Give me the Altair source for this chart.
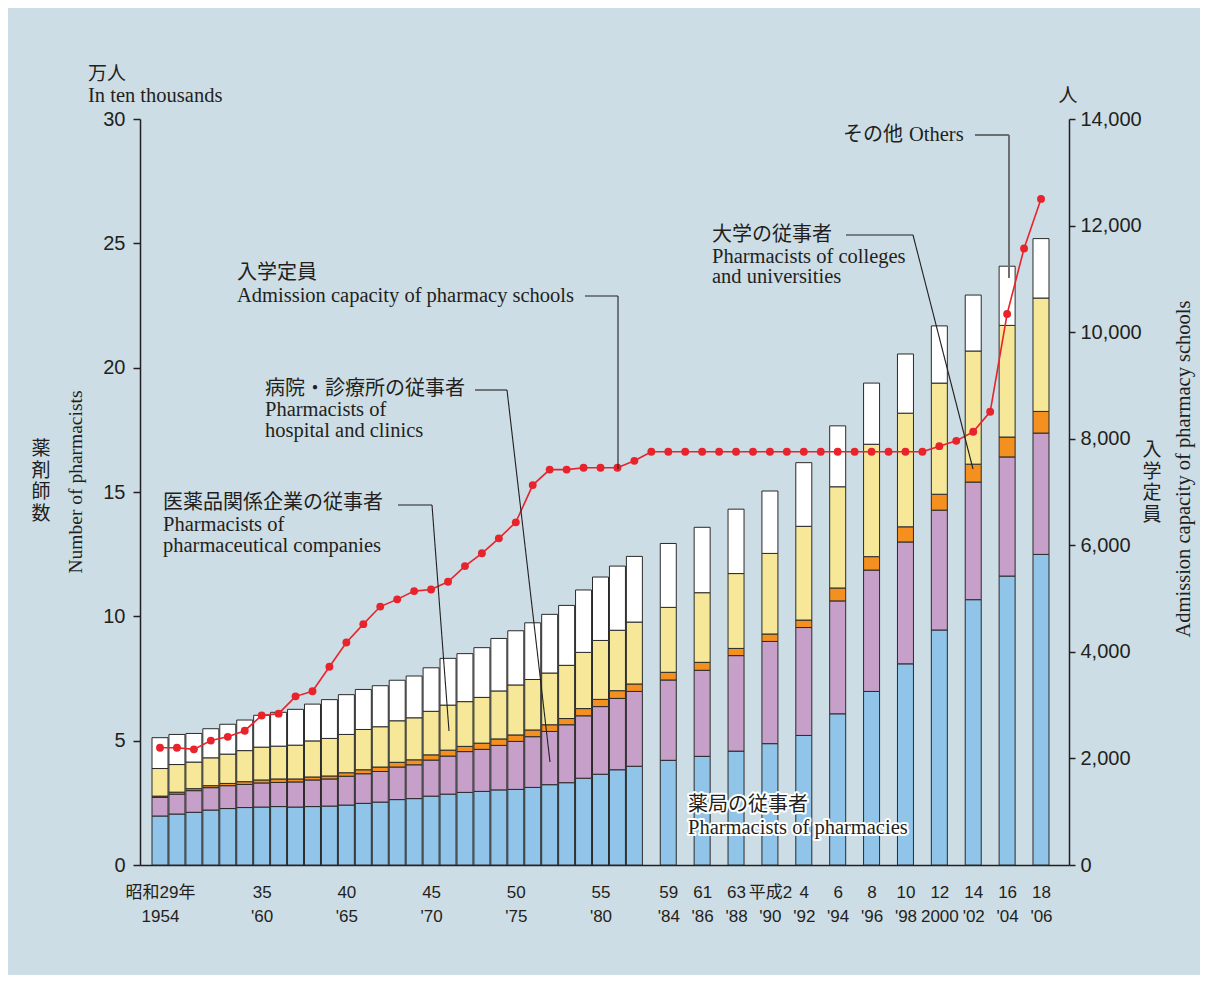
import json
import altair as alt
import pandas as pd

# ---------------- data ----------------
bar_years = list(range(1954, 1983)) + list(range(1984, 2007, 2))

# number of pharmacists by workplace, in ten thousands
pharmacies = [1.97, 2.05, 2.12, 2.21, 2.27, 2.31, 2.33, 2.35, 2.33, 2.35, 2.37, 2.41, 2.48, 2.53,
              2.63, 2.67, 2.77, 2.85, 2.92, 2.96, 3.02, 3.04, 3.12, 3.23, 3.31, 3.49, 3.65, 3.83,
              3.97, 4.21, 4.37, 4.58, 4.88, 5.21, 6.08, 6.98, 8.09, 9.45, 10.67, 11.62, 12.49]
hospitals = [0.75, 0.80, 0.87, 0.90, 0.92, 0.93, 0.97, 0.97, 1.01, 1.07, 1.09, 1.16, 1.19, 1.23,
             1.31, 1.36, 1.45, 1.53, 1.64, 1.69, 1.79, 1.93, 2.04, 2.14, 2.33, 2.51, 2.72, 2.87,
             3.01, 3.23, 3.46, 3.84, 4.11, 4.34, 4.54, 4.88, 4.90, 4.82, 4.73, 4.79, 4.88]
colleges = [0.05, 0.08, 0.08, 0.08, 0.09, 0.11, 0.12, 0.14, 0.12, 0.12, 0.12, 0.14, 0.16, 0.18,
            0.19, 0.20, 0.21, 0.24, 0.21, 0.25, 0.26, 0.26, 0.27, 0.27, 0.25, 0.29, 0.29, 0.31,
            0.30, 0.31, 0.32, 0.29, 0.30, 0.30, 0.52, 0.54, 0.61, 0.64, 0.72, 0.80, 0.87]
companies = [1.11, 1.11, 1.07, 1.12, 1.18, 1.25, 1.32, 1.32, 1.36, 1.45, 1.51, 1.54, 1.62, 1.62,
             1.67, 1.69, 1.75, 1.81, 1.80, 1.84, 1.93, 2.01, 2.03, 2.08, 2.14, 2.26, 2.37, 2.43,
             2.49, 2.61, 2.80, 3.01, 3.24, 3.77, 4.07, 4.52, 4.57, 4.47, 4.55, 4.49, 4.56]
others = [1.24, 1.21, 1.15, 1.17, 1.20, 1.23, 1.28, 1.36, 1.44, 1.48, 1.56, 1.60, 1.61, 1.65,
          1.63, 1.68, 1.75, 1.88, 1.93, 2.00, 2.11, 2.18, 2.28, 2.36, 2.41, 2.51, 2.55, 2.58,
          2.64, 2.57, 2.63, 2.59, 2.51, 2.56, 2.45, 2.46, 2.38, 2.30, 2.25, 2.38, 2.39]

categories = ["薬局の従事者", "病院・診療所の従事者", "大学の従事者", "医薬品関係企業の従事者", "その他"]
cat_colors = ["#90c4e8", "#c6a0c8", "#f3901f", "#f7e899", "#ffffff"]

# admission capacity of pharmacy schools (persons), every year
cap_years = list(range(1954, 2007))
capacity = [2200, 2200, 2170, 2335, 2405, 2520, 2805, 2840, 3165, 3260, 3720, 4175, 4520, 4850,
            4985, 5140, 5170, 5315, 5610, 5850, 6130, 6430, 7130, 7420, 7420, 7455, 7455, 7455,
            7585, 7755, 7755, 7755, 7755, 7755, 7755, 7755, 7755, 7755, 7755, 7755, 7755, 7755,
            7755, 7755, 7755, 7755, 7860, 7960, 8130, 8505, 10340, 11570, 12500]

# x axis tick labels (two lines each)
tick_years = [1954, 1960, 1965, 1970, 1975, 1980, 1984, 1986, 1988, 1990, 1992, 1994, 1996,
              1998, 2000, 2002, 2004, 2006]
tick_line1 = ["昭和29年", "35", "40", "45", "50", "55", "59", "61", "63", "平成2", "4", "6", "8",
              "10", "12", "14", "16", "18"]
tick_line2 = ["1954", "'60", "'65", "'70", "'75", "'80", "'84", "'86", "'88", "'90", "'92", "'94",
              "'96", "'98", "2000", "'02", "'04", "'06"]
left_ticks = [0, 5, 10, 15, 20, 25, 30]
right_ticks = [0, 2000, 4000, 6000, 8000, 10000, 12000, 14000]

# ---------------- tables ----------------
rows = []
for i, yr in enumerate(bar_years):
    for k, arr in enumerate([pharmacies, hospitals, colleges, companies, others]):
        rows.append({"year": yr, "cat": categories[k], "order": k, "value": arr[i]})
bars_df = pd.DataFrame(rows)
cap_df = pd.DataFrame({"year": cap_years, "cap": capacity})

# ---------------- style ----------------
BG = "#cddde5"
INK = "#231f20"
RED = "#e8232b"
SANS = "Liberation Sans, Arial, Noto Sans CJK JP"
JP = "Noto Sans CJK JP"
SERIF = "Liberation Serif, Times New Roman"

PLOT_L, PLOT_T = 140, 119          # page position of plot origin
W, H = 929, 746

xscale = alt.Scale(domain=[1952.819, 2007.653], nice=False, zero=False, padding=0)
pairs = [[a, b] for a, b in zip(tick_line1, tick_line2)]
label_expr = f"{json.dumps(pairs, ensure_ascii=False)}[indexof({json.dumps(tick_years)}, datum.value)]"
xaxis = alt.Axis(values=tick_years, labelExpr=label_expr, ticks=False, grid=False, title=None,
                 domainColor=INK, domainWidth=1.5, labelFont=SANS, labelFontSize=17,
                 labelColor=INK, labelPadding=19, labelLineHeight=24, labelBaseline="top",
                 labelOverlap=False, labelFlush=False)

bars = alt.Chart(bars_df).mark_bar(size=16, stroke="#2a2a2a", strokeWidth=1).encode(
    x=alt.X("year:Q", scale=xscale, axis=xaxis),
    y=alt.Y("value:Q", stack="zero", scale=alt.Scale(domain=[0, 30], nice=False),
            axis=alt.Axis(values=left_ticks, orient="left", title=None, grid=False,
                          domainColor=INK, domainWidth=1.5, tickColor=INK, tickWidth=1.5,
                          tickSize=7, labelFont=SANS, labelFontSize=20, labelColor=INK,
                          labelPadding=8)),
    color=alt.Color("cat:N", scale=alt.Scale(domain=categories, range=cat_colors), legend=None),
    order=alt.Order("order:Q", sort="ascending"),
)

yright = alt.Y("cap:Q", scale=alt.Scale(domain=[0, 14000], nice=False),
               axis=alt.Axis(values=right_ticks, orient="right", format=",d", title=None,
                             grid=False, domainColor=INK, domainWidth=1.5, tickColor=INK,
                             tickWidth=1.5, tickSize=6, labelFont=SANS, labelFontSize=20,
                             labelColor=INK, labelPadding=5))
cap_base = alt.Chart(cap_df).encode(x=alt.X("year:Q", scale=xscale, axis=xaxis), y=yright)
cap_line = cap_base.mark_line(color=RED, strokeWidth=1.6)
cap_pts = cap_base.mark_circle(color=RED, size=62, opacity=1)
cap_layer = alt.layer(cap_line, cap_pts)

ONE = pd.DataFrame({"a": [1]})


def txt(s, x, y, font, size=20, align="left", angle=0, halo=False):
    kw = dict(text=s, font=font, fontSize=size, align=align, baseline="middle", color=INK)
    if angle:
        kw["angle"] = angle
    enc = dict(x=alt.value(x - PLOT_L), y=alt.value(y - PLOT_T))
    layers = []
    if halo:
        layers.append(alt.Chart(ONE).mark_text(stroke="white", strokeWidth=4,
                                               strokeJoin="round", **kw).encode(**enc))
    layers.append(alt.Chart(ONE).mark_text(**kw).encode(**enc))
    return layers


def vtxt(s, x, y0, step, font, size):
    out = []
    for i, ch in enumerate(s):
        out += txt(ch, x, y0 + i * step, font, size, align="center")
    return out


def seg(x1, y1, x2, y2, color=INK, width=1.1):
    return alt.Chart(ONE).mark_rule(color=color, strokeWidth=width).encode(
        x=alt.value(x1 - PLOT_L), y=alt.value(y1 - PLOT_T),
        x2=alt.value(x2 - PLOT_L), y2=alt.value(y2 - PLOT_T))


ann = []
# axis titles
ann += txt("万人", 88, 74, JP, 19)
ann += txt("In ten thousands", 88, 96, SERIF, 20.5)
ann += txt("人", 1068, 96, JP, 19, align="center")
ann += vtxt("薬剤師数", 41, 449, 21.5, JP, 19)
ann += txt("Number of pharmacists", 76, 482, SERIF, 19.5, align="center", angle=270)
ann += vtxt("入学定員", 1152, 450, 21.5, JP, 19)
ann += txt("Admission capacity of pharmacy schools", 1184, 469, SERIF, 20.5, align="center",
           angle=270)

# callouts
ann += txt("入学定員", 237, 273, JP, 20)
ann += txt("Admission capacity of pharmacy schools", 237, 296, SERIF, 20.5)
ann += txt("病院・診療所の従事者", 265, 389, JP, 20)
ann += txt("Pharmacists of", 265, 410, SERIF, 20.5)
ann += txt("hospital and clinics", 265, 431, SERIF, 20.5)
ann += txt("医薬品関係企業の従事者", 163, 503, JP, 20)
ann += txt("Pharmacists of", 163, 525, SERIF, 20.5)
ann += txt("pharmaceutical companies", 163, 546, SERIF, 20.5)
ann += txt("大学の従事者", 712, 235, JP, 20)
ann += txt("Pharmacists of colleges", 712, 257, SERIF, 20.5)
ann += txt("and universities", 712, 277, SERIF, 20.5)
ann += txt("その他", 843, 135, JP, 20)
ann += txt("Others", 909, 135, SERIF, 20.5)
ann += txt("薬局の従事者", 688, 805, JP, 20, halo=True)
ann += txt("Pharmacists of pharmacies", 688, 828, SERIF, 20.5, halo=True)

# leader lines
ann += [
    seg(585, 296, 618, 296), seg(618, 296, 618, 469),
    seg(475, 390, 507, 390), seg(507, 390, 550, 762),
    seg(398, 505, 432, 505), seg(432, 505, 449, 731),
    seg(846, 235, 913, 235), seg(913, 235, 973, 469),
    seg(975, 135, 1009, 135, color="#6d6e71", width=2),
    seg(1009, 135, 1009, 278, color="#6d6e71", width=2),
]

chart = alt.layer(bars, cap_layer, *ann).resolve_scale(y="independent").properties(
    width=W, height=H,
    padding={"left": 132, "top": 111, "right": 131, "bottom": 110},
    autosize=alt.AutoSizeParams(type="none"),
).configure(background=BG).configure_view(stroke=None)

chart.save("out.html", embed_options={"renderer": "svg", "actions": False})
